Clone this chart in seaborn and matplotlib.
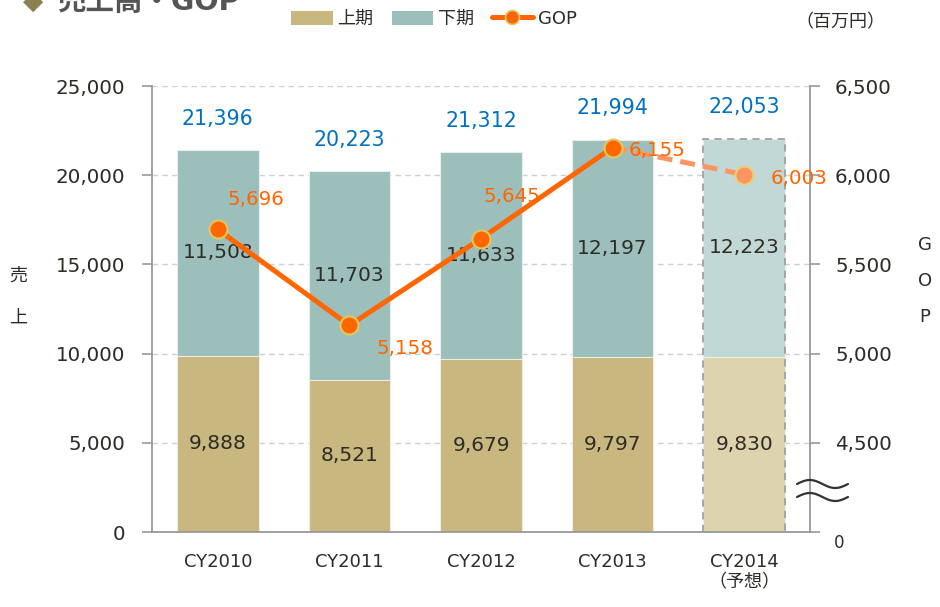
import numpy as np
import pandas as pd
import matplotlib
matplotlib.use("Agg")
import matplotlib.pyplot as plt
from matplotlib.patches import Patch
from matplotlib.lines import Line2D
import seaborn as sns

# ---- data ----
categories = ["CY2010", "CY2011", "CY2012", "CY2013", "CY2014"]
tick_labels = ["CY2010", "CY2011", "CY2012", "CY2013", "CY2014\n（予想）"]
first_half = [9888, 8521, 9679, 9797, 9830]
second_half = [11508, 11703, 11633, 12197, 12223]
totals = [21396, 20223, 21312, 21994, 22053]
gop = [5696, 5158, 5645, 6155, 6003]
left_ticks = [0, 5000, 10000, 15000, 20000, 25000]
right_ticks = [4000, 4500, 5000, 5500, 6000, 6500]
right_tick_labels = ["", "4,500", "5,000", "5,500", "6,000", "6,500"]

sns.set_theme(style="white")
plt.rcParams["font.family"] = ["DejaVu Sans", "Noto Sans CJK JP"]

TXT = "#2f2b25"
C_UP = "#C8B77F"
C_DN = "#9DBFBC"
C_UP_L = "#DDD3AE"
C_DN_L = "#C2D8D7"
ORANGE = "#FF6600"
ORANGE_L = "#FF9562"
BLUE = "#0070C0"

fig = plt.figure(figsize=(9.4, 6.07), dpi=100)
ax = fig.add_axes([152/940, 1-532/607, 658/940, 446/607])

df = pd.DataFrame({"cat": categories, "first": first_half,
                   "second": second_half})
df["total"] = df["first"] + df["second"]

pal_dn = {c: (C_DN_L if i == 4 else C_DN) for i, c in enumerate(categories)}
pal_up = {c: (C_UP_L if i == 4 else C_UP) for i, c in enumerate(categories)}

sns.barplot(data=df, x="cat", y="total", hue="cat", palette=pal_dn,
            width=0.62, legend=False, ax=ax, saturation=1,
            edgecolor="#e8eeee", linewidth=0.8, zorder=2)
sns.barplot(data=df, x="cat", y="first", hue="cat", palette=pal_up,
            width=0.62, legend=False, ax=ax, saturation=1,
            edgecolor="#f0ece0", linewidth=0.8, zorder=2)

# dashed outline for forecast bar
p_top = ax.patches[4]
x0 = p_top.get_x(); w = p_top.get_width()
ax.plot([x0, x0, x0 + w, x0 + w, x0], [0, totals[4], totals[4], 0, 0],
        ls=(0, (4, 3)), color="#a0a0a0", lw=1.3, zorder=3)

ax.set_xlim(-0.5, 4.5)
ax.set_ylim(0, 25000)
ax.set_yticks(left_ticks)
ax.set_yticklabels([f"{v:,}" for v in left_ticks], fontsize=14.3, color=TXT)
ax.set_xticks(range(5))
ax.set_xticklabels(tick_labels, fontsize=13, color=TXT)
ax.set_xticks(np.arange(-0.5, 5.0, 1.0), minor=True)
ax.tick_params(axis="x", which="major", length=0, pad=15)
ax.tick_params(axis="x", which="minor", length=7, color="#999999", width=1.2,
               direction="out")
ax.tick_params(axis="y", length=7, color="#999999", width=1.2,
               direction="out", pad=12, left=True)
ax.set_xlabel(""); ax.set_ylabel("")
ax.yaxis.grid(True, ls=(0, (4, 3)), color="#d0d0d0", lw=1)
ax.set_axisbelow(True)
for s in ["top", "right"]:
    ax.spines[s].set_visible(False)
for s in ["left", "bottom"]:
    ax.spines[s].set_color("#999999"); ax.spines[s].set_linewidth(1.3)

# value labels
for i in range(5):
    ax.text(i, first_half[i] / 2, f"{first_half[i]:,}", ha="center",
            va="center", fontsize=14.5, color=TXT, zorder=5)
    ax.text(i, first_half[i] + second_half[i] / 2, f"{second_half[i]:,}",
            ha="center", va="center", fontsize=14.5, color=TXT, zorder=5)
    ax.text(i, totals[i] + 1750, f"{totals[i]:,}", ha="center",
            va="center", fontsize=14.8, color=BLUE, zorder=5)

# GOP axis
ax2 = ax.twinx()
ax2.set_ylim(4000, 6500)
ax2.set_yticks(right_ticks)
ax2.set_yticklabels(right_tick_labels, fontsize=14.3, color=TXT)
ax2.tick_params(axis="y", length=7, color="#999999", width=1.2,
                direction="out", pad=11, right=True)
for s in ["top", "left", "bottom"]:
    ax2.spines[s].set_visible(False)
ax2.spines["right"].set_color("#999999"); ax2.spines["right"].set_linewidth(1.3)
ax2.grid(False)
ax2.text(1.0 + 29/658, -11/446, "0", transform=ax2.transAxes, fontsize=12,
         color=TXT, ha="center", va="center")

xs = np.arange(5)
ax2.plot(xs[3:5], gop[3:5], color=ORANGE_L, lw=3.6, ls=(0, (3, 1.6)),
         zorder=4)
ax2.plot(xs[4], gop[4], marker="o", ms=13, mfc=ORANGE_L, mec="#E6D07A",
         mew=1.5, zorder=5)
ax2.plot(xs[:4], gop[:4], color=ORANGE, lw=3.6, marker="o", ms=13,
         mfc=ORANGE, mec="#E0C860", mew=1.5, zorder=5)

gop_offsets = [(0.29, 165), (0.42, -127), (0.235, 238), (0.34, -14), (0.42, -19)]
for i, (dx, dy) in enumerate(gop_offsets):
    ax2.text(xs[i] + dx, gop[i] + dy, f"{gop[i]:,}", ha="center",
             va="center", fontsize=14.3, color=ORANGE, zorder=6)

# break marks on GOP axis
tt = np.linspace(0, 1, 60)
for yb in [484, 497]:
    xx = (797 + 51 * tt) / 940
    yy = 1 - (yb - 4 * np.sin(2 * np.pi * tt)) / 607
    fig.add_artist(Line2D(xx, yy, color="#333333", lw=1.6,
                          transform=fig.transFigure))

# axis labels
fig.text(18/940, 1-276/607, "売", fontsize=13, color=TXT, ha="center", va="center")
fig.text(18/940, 1-318/607, "上", fontsize=13, color=TXT, ha="center", va="center")
for j, ch in enumerate("GOP"):
    fig.text(925/940, 1-(245 + j*36)/607, ch, fontsize=13, color=TXT,
             ha="center", va="center")

fig.text(840/940, 1-22/607, "（百万円）", fontsize=13, color=TXT,
         ha="center", va="center")

# title (cut at top, as in the original)
fig.text(33/940, 1-2/607, "◆", fontsize=19, color="#8B8050", ha="center",
         va="center")
fig.text(57/940, 1-2/607, "売上高・GOP", fontsize=20.5, color="#555555",
         fontweight="bold", ha="left", va="center")

# legend
handles = [Patch(facecolor=C_UP, edgecolor="none"),
           Patch(facecolor=C_DN, edgecolor="none"),
           Line2D([0], [0], color=ORANGE, lw=3.6, marker="o", ms=10,
                  mfc=ORANGE, mec="#E0C860", mew=1.2)]
fig.legend(handles, ["上期", "下期", "GOP"], loc="center",
           bbox_to_anchor=(434/940, 1-19/607), ncol=3, frameon=False,
           fontsize=13, handlelength=2.3, handleheight=0.85,
           columnspacing=1.0, handletextpad=0.25, labelcolor=TXT)

fig.savefig("out.png", dpi=100)
